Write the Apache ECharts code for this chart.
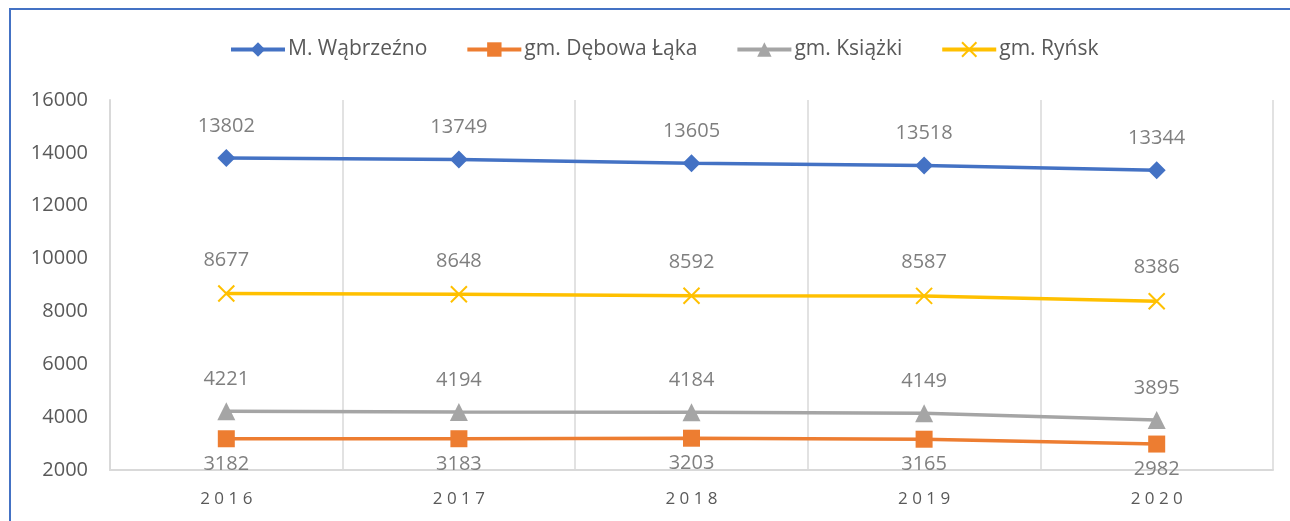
<!DOCTYPE html>
<html>
<head>
<meta charset="utf-8">
<script src="https://cdn.jsdelivr.net/npm/echarts@6/dist/echarts.min.js"></script>
<style>
html,body{margin:0;padding:0;background:#fff;}
#c{width:1290px;height:521px;}
</style>
</head>
<body>
<div id="c"></div>
<script>
const years = ['2016', '2017', '2018', '2019', '2020'];
const seriesNames = ['M. Wąbrzeźno', 'gm. Dębowa Łąka', 'gm. Książki', 'gm. Ryńsk'];
const wabrzezno = [13802, 13749, 13605, 13518, 13344];
const debowaLaka = [3182, 3183, 3203, 3165, 2982];
const ksiazki = [4221, 4194, 4184, 4149, 3895];
const rynsk = [8677, 8648, 8592, 8587, 8386];
const yMin = 2000, yMax = 16000, yStep = 2000;

const FONT = 'Open Sans';
const labelStyle = (pos, dist) => ({
  show: true, position: pos, distance: dist,
  color: '#7F7F7F', fontSize: 20, fontFamily: FONT
});
const xPath = 'path://M0,0L10,10M10,0L0,10';

const chart = echarts.init(document.getElementById('c'));
chart.setOption({
  animation: false,
  backgroundColor: '#fff',
  graphic: [{
    type: 'rect', silent: true,
    shape: { x: 10, y: 9, width: 1400, height: 600 },
    style: { fill: 'none', stroke: '#4472C4', lineWidth: 2 }
  }],
  legend: {
    top: 34, left: 224,
    itemWidth: 54, itemHeight: 18, itemGap: 38,
    lineStyle: { width: 4 },
    textStyle: { color: '#595959', fontSize: 21, fontFamily: FONT, padding: [0, 0, 0, -2] },
    data: seriesNames
  },
  grid: { left: 110, right: 17, top: 100, bottom: 51 },
  xAxis: {
    type: 'category', data: years, boundaryGap: true,
    axisLine: { show: true, lineStyle: { color: '#D9D9D9', width: 2 } },
    axisTick: { show: false },
    axisLabel: {
      color: '#595959', fontSize: 17, fontFamily: FONT, margin: 21,
      formatter: v => v.split('').join(' ')
    },
    splitLine: { show: true, lineStyle: { color: '#D9D9D9', width: 1.5 } }
  },
  yAxis: {
    type: 'value', min: yMin, max: yMax, interval: yStep,
    axisLine: { show: true, lineStyle: { color: '#D9D9D9', width: 2 } },
    axisTick: { show: false },
    splitLine: { show: false },
    axisLabel: { color: '#595959', fontSize: 20, fontFamily: FONT, margin: 22, formatter: v => String(v) }
  },
  series: [
    {
      name: seriesNames[0], type: 'line', data: wabrzezno,
      symbol: 'diamond', symbolSize: 18,
      lineStyle: { color: '#4472C4', width: 3.5 },
      itemStyle: { color: '#4472C4' },
      label: labelStyle('top', 13)
    },
    {
      name: seriesNames[1], type: 'line', data: debowaLaka,
      symbol: 'rect', symbolSize: 17,
      lineStyle: { color: '#ED7D31', width: 3.5 },
      itemStyle: { color: '#ED7D31' },
      label: labelStyle('bottom', 7)
    },
    {
      name: seriesNames[2], type: 'line', data: ksiazki,
      symbol: 'triangle', symbolSize: 18,
      lineStyle: { color: '#A5A5A5', width: 3.5 },
      itemStyle: { color: '#A5A5A5' },
      label: labelStyle('top', 13)
    },
    {
      name: seriesNames[3], type: 'line', data: rynsk,
      symbol: xPath, symbolSize: 16,
      lineStyle: { color: '#FFC000', width: 3.5 },
      itemStyle: { color: 'none', borderColor: '#FFC000', borderWidth: 2 },
      label: labelStyle('top', 13)
    }
  ]
});
</script>
</body>
</html>
